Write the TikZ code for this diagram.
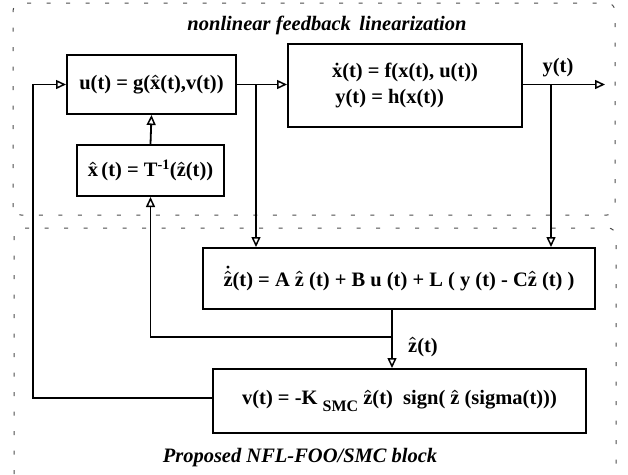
\documentclass[tikz,border=0pt]{standalone}
\usepackage{amsmath}
\usepackage{fontspec}
\setmainfont{Liberation Serif}
\usetikzlibrary{arrows.meta}
\newcommand\zh{$\boldsymbol{\hat{\text{z}}}$}
\newcommand\xh{$\boldsymbol{\hat{\text{x}}}$}
\newcommand\zhd{$\boldsymbol{\dot{\hat{\text{z}}}}$}
\newcommand\xd{$\boldsymbol{\dot{\text{x}}}$}
\newcommand\subsmc{\raisebox{-7pt}{\fontsize{16}{18}\selectfont SMC}}
\begin{document}
\begin{tikzpicture}[x=1pt,y=-1pt,
  font=\fontsize{20.5}{25}\selectfont\bfseries,
  blk/.style={draw,line width=2pt,inner sep=0pt,anchor=center},
  wire/.style={line width=1.8pt},
  arr/.style={wire,-{Triangle[open,length=10pt,width=9pt,line width=1.5pt]}},
  region/.style={draw=black!70,line width=1pt,dash pattern=on 4pt off 15.5pt,rounded corners=8pt},
  title/.style={font=\fontsize{20.5}{24}\selectfont\bfseries\itshape}]
\useasboundingbox (0,0) rectangle (628,474);

% dashed regions
\draw[region] (13,215) -- (13,3) -- (615,3) -- (615,215) -- cycle;
\draw[region] (14,474) -- (14,228) -- (616,228) -- (616,474);

\node[title] (t1) at (327,25) {nonlinear feedback\, linearization};
\node[title] (t2) at (300,458) {Proposed NFL-FOO/SMC block};

% blocks
\node[blk,minimum width=169pt,minimum height=59pt] (u) at (151.5,84.5) {u(t) = g(\xh(t),v(t))};
\node[blk,minimum width=147pt,minimum height=51pt] (x) at (150.5,170.5) {\xh\,(t) = T$^{\text{-1}}$(\zh(t))};
\node[blk,minimum width=234pt,minimum height=83pt,align=left] (s) at (405,85.5)
  {\xd(t) = f(x(t), u(t))\\[1pt]\,y(t) = h(x(t))};
\node[blk,minimum width=392pt,minimum height=61pt] (o) at (399,278.5)
  {\zhd(t) = A \zh\ (t) + B u (t) + L ( y (t) - C\zh\ (t) )};
\node[blk,minimum width=373pt,minimum height=64pt] (v) at (399.5,401)
  {v(t) = -K \subsmc\ \zh(t)\ \ sign( \zh\ (sigma(t)))};

% junctions and free ends
\coordinate (bu) at (256,84.5);
\coordinate (by) at (551,84.5);
\coordinate (yo) at (605,84.5);
\coordinate (zo) at (392,337);
\coordinate (zl) at (150.5,337);
\coordinate (vl) at (33,398);
\coordinate (ul) at (33,84.5);

\node (yl) at (558,68) {y(t)};
\node (zlab) at (423,347) {\zh(t)};

% connectors
\draw[arr] (u.east) -- (u.east -| s.west);
\draw[arr] (bu) -- (bu |- o.north);
\draw[arr] (s.east |- yo) -- (yo);
\draw[arr] (by) -- (by |- o.north);
\draw[arr] (x.north) -- (u.south);
\draw[arr] (zo |- o.south) -- (zo |- v.north);
\draw[arr] (zo) -- (zl) -- (x.south);
\draw[arr] (v.west |- vl) -- (vl) -- (ul) -- (u.west);
\end{tikzpicture}
\end{document}
